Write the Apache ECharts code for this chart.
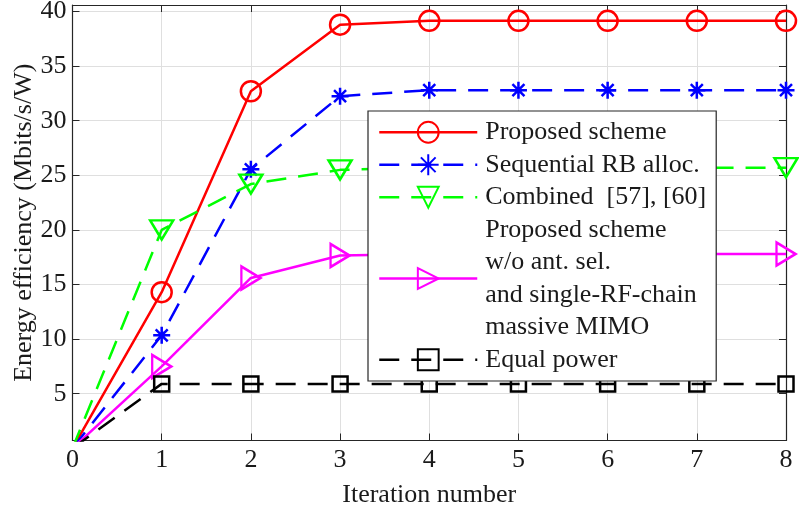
<!DOCTYPE html>
<html>
<head>
<meta charset="utf-8">
<script src="https://cdn.jsdelivr.net/npm/echarts@6/dist/echarts.min.js"></script>
<style>html,body{margin:0;padding:0;background:#fff;}#c{width:799px;height:508px;}</style>
</head>
<body>
<div id="c"></div>
<script>
// ---- data ----
var iterations = [0, 1, 2, 3, 4, 5, 6, 7, 8];
var proposed   = [0, 14.3, 32.7, 38.8, 39.15, 39.15, 39.15, 39.15, 39.15];
var sequential = [0, 10.35, 25.55, 32.25, 32.8, 32.8, 32.8, 32.8, 32.8];
var combined   = [0, 20.0, 24.2, 25.5, 25.7, 25.7, 25.7, 25.7, 25.7];
var noAntSel   = [0, 7.5, 15.6, 17.65, 17.8, 17.8, 17.8, 17.8, 17.8];
var equalPower = [0, 5.9, 5.9, 5.9, 5.9, 5.9, 5.9, 5.9, 5.9];
var xTicks = [0, 1, 2, 3, 4, 5, 6, 7, 8];
var yTicks = [5, 10, 15, 20, 25, 30, 35, 40];
var names = ['Proposed scheme', 'Sequential RB alloc.', 'Combined  [57], [60]',
  'Proposed scheme\nw/o ant. sel.\nand single-RF-chain\nmassive MIMO', 'Equal power'];

var FONT = '"Liberation Serif", "Times New Roman", serif';
var AX = '#262626';
var GRIDC = '#dfdfdf';

function pts(arr) {
  return iterations.map(function (x, i) {
    var p = { value: [x, arr[i]] };
    if (i === 0) p.symbol = 'none';
    return p;
  });
}
var star = 'path://M0,-10L0,10M-10,0L10,0M-7.07,-7.07L7.07,7.07M-7.07,7.07L7.07,-7.07';

function mk(name, arr, color, dashed, symbol, size, rot) {
  return {
    name: name, type: 'line', xAxisIndex: 0, yAxisIndex: 0,
    data: pts(arr), symbol: symbol, symbolSize: size, symbolRotate: rot || 0,
    showAllSymbol: true, clip: true,
    lineStyle: { color: color, width: 2.5, type: dashed ? [20, 12] : 'solid' },
    itemStyle: { color: 'rgba(0,0,0,0)', borderColor: color, borderWidth: 2.5 },
    emphasis: { disabled: true }, z: 3
  };
}

var chart = echarts.init(document.getElementById('c'), null, { renderer: 'canvas' });
var yMin = 0.714, yMax = 40.6;
chart.setOption({
  animation: false,
  backgroundColor: '#fff',
  grid: [
    { left: 72.5, right: 13, top: 5, bottom: 67.5, containLabel: false, outerBoundsMode: 'none' },
    { left: 72.5, right: 13, top: 11.5, bottom: 114.3, containLabel: false, outerBoundsMode: 'none' }
  ],
  xAxis: [
    { type: 'value', gridIndex: 0, min: 0, max: 8, interval: 1, position: 'bottom',
      name: 'Iteration number', nameLocation: 'middle', nameGap: 42,
      nameTextStyle: { fontFamily: FONT, fontSize: 26, color: '#1a1a1a' },
      axisLine: { show: true, onZero: false, lineStyle: { color: AX, width: 1.2 } },
      axisTick: { show: true, inside: true, length: 7, lineStyle: { color: AX } },
      axisLabel: { show: true, fontFamily: FONT, fontSize: 26, color: '#1a1a1a', margin: 7,
        formatter: function (v) { return xTicks.indexOf(v) >= 0 ? String(v) : ''; } },
      splitLine: { show: true, lineStyle: { color: GRIDC, width: 1 } } },
    { type: 'value', gridIndex: 0, min: 0, max: 8, interval: 1, position: 'top',
      axisLine: { show: true, onZero: false, lineStyle: { color: AX, width: 1.2 } },
      axisTick: { show: true, inside: true, length: 7, lineStyle: { color: AX } },
      axisLabel: { show: false }, splitLine: { show: false } },
    { type: 'value', gridIndex: 1, min: 0, max: 8, interval: 1, show: false }
  ],
  yAxis: [
    { type: 'value', gridIndex: 0, min: yMin, max: yMax, position: 'left',
      name: 'Energy efficiency (Mbits/s/W)', nameLocation: 'middle', nameGap: 35,
      nameTextStyle: { fontFamily: FONT, fontSize: 26, color: '#1a1a1a' },
      axisLine: { show: true, onZero: false, lineStyle: { color: AX, width: 1.2 } },
      axisTick: { show: false }, axisLabel: { show: false }, splitLine: { show: false } },
    { type: 'value', gridIndex: 0, min: yMin, max: yMax, position: 'right',
      axisLine: { show: true, onZero: false, lineStyle: { color: AX, width: 1.2 } },
      axisTick: { show: false }, axisLabel: { show: false }, splitLine: { show: false } },
    { type: 'value', gridIndex: 1, min: 5, max: 40, interval: 5, position: 'left',
      axisLine: { show: false },
      axisTick: { show: true, inside: true, length: 7, lineStyle: { color: AX } },
      axisLabel: { show: true, fontFamily: FONT, fontSize: 26, color: '#1a1a1a', margin: 6,
        formatter: function (v) { return yTicks.indexOf(v) >= 0 ? String(v) : ''; } },
      splitLine: { show: true, lineStyle: { color: GRIDC, width: 1 } } },
    { type: 'value', gridIndex: 1, min: 5, max: 40, interval: 5, position: 'right',
      axisLine: { show: false },
      axisTick: { show: true, inside: true, length: 7, lineStyle: { color: AX } },
      axisLabel: { show: false }, splitLine: { show: false } }
  ],
  legend: {
    orient: 'vertical', left: 368, top: 111,
    backgroundColor: '#fff', borderColor: AX, borderWidth: 1.2,
    padding: [5, 10, 5, 10], itemGap: 0, itemWidth: 98, itemHeight: 26,
    textStyle: { fontFamily: FONT, fontSize: 26, color: '#1a1a1a', lineHeight: 32.5, padding: [0, 0, 0, 3] },
    lineStyle: { width: 2.5 },
    selectedMode: false,
    data: names
  },
  series: [
    mk(names[0], proposed, '#ff0000', false, 'circle', 20, 0),
    mk(names[1], sequential, '#0000ff', true, star, 17, 0),
    mk(names[2], combined, '#00ff00', true, 'triangle', [23, 19], 180),
    mk(names[3], noAntSel, '#ff00ff', false, 'triangle', [23, 19], -90),
    mk(names[4], equalPower, '#000000', true, 'rect', 15, 0)
  ]
});
</script>
</body>
</html>
